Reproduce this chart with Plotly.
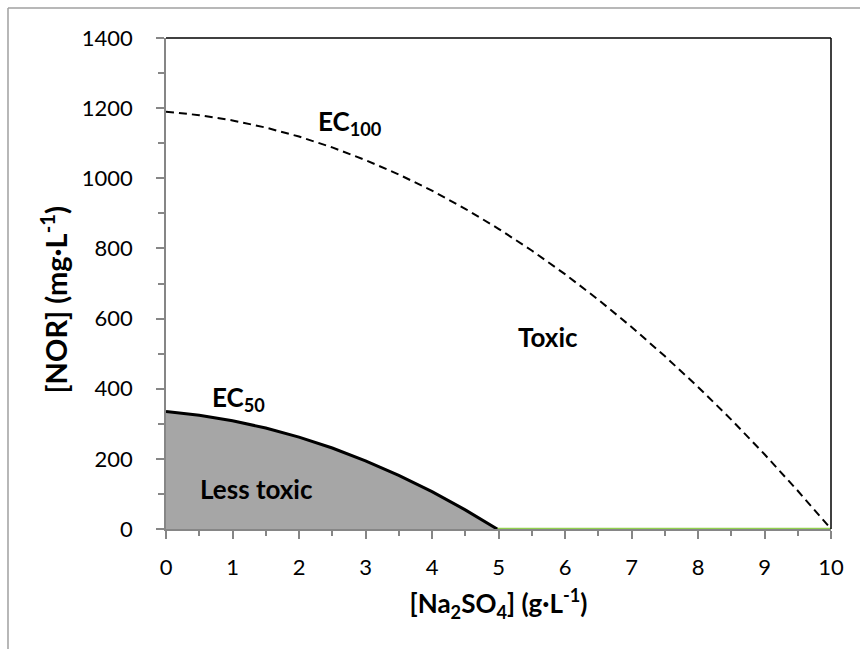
import plotly.graph_objects as go

# Concentration of Na2SO4 (g/L) and NOR toxicity thresholds (mg/L)
ec50_x = [0, 0.5, 1, 1.5, 2, 2.5, 3, 3.5, 4, 4.5, 4.98]
ec50_y = [335, 324.5, 308.8, 288, 262, 230.9, 194.5, 153.1, 106.4, 54.6, 0]

ec100_x = [0, 0.5, 1, 1.5, 2, 2.5, 3, 3.5, 4, 4.5, 5, 5.5, 6, 6.5, 7, 7.5, 8, 8.5, 9, 9.5, 10]
ec100_y = [1190, 1180, 1165, 1144.6, 1119, 1088, 1052, 1011, 964.6, 913, 856, 794,
           726.6, 654, 576, 493, 405, 312, 213, 109, 0]

baseline_x = [0, 10]
baseline_y = [0, 0]

x_ticks = [0, 1, 2, 3, 4, 5, 6, 7, 8, 9, 10]
y_ticks = [0, 200, 400, 600, 800, 1000, 1200, 1400]

FONT = "Lato"

fig = go.Figure()

# zero baseline series
fig.add_trace(go.Scatter(
    x=baseline_x, y=baseline_y, mode="lines",
    line=dict(color="#92D050", width=2.5),
    hoverinfo="skip", showlegend=False, cliponaxis=False))

# shaded "less toxic" region under the EC50 curve
fig.add_trace(go.Scatter(
    x=ec50_x, y=ec50_y, mode="lines", fill="tozeroy",
    fillcolor="#A6A6A6", line=dict(color="black", width=3),
    hoverinfo="skip", showlegend=False))

# EC100 boundary
fig.add_trace(go.Scatter(
    x=ec100_x, y=ec100_y, mode="lines",
    line=dict(color="black", width=2, dash="8px,5px"),
    hoverinfo="skip", showlegend=False))

fig.update_xaxes(
    range=[0, 10], tickvals=x_ticks, ticktext=[str(v) for v in x_ticks],
    showgrid=False, zeroline=False,
    showline=True, linecolor="#868686", linewidth=1.5,
    ticks="outside", ticklen=8, tickwidth=1.5, tickcolor="#868686",
    minor=dict(dtick=0.5, ticks="outside", ticklen=5, tickwidth=1.5, tickcolor="#868686"),
    tickfont=dict(family=FONT, size=22, color="black"),
    ticklabelstandoff=10,
    title=dict(text="<b>[Na<sub>2</sub>SO<sub>4</sub>] (g·L<sup>-1</sup>)</b>",
               font=dict(family=FONT, size=26, color="black"), standoff=16),
)
fig.update_yaxes(
    range=[0, 1400], tickvals=y_ticks, ticktext=[str(v) for v in y_ticks],
    showgrid=False, zeroline=False,
    showline=True, linecolor="#868686", linewidth=1.5,
    ticks="outside", ticklen=8, tickwidth=1.5, tickcolor="#868686",
    minor=dict(dtick=100, ticks="outside", ticklen=6, tickwidth=1.5, tickcolor="#868686"),
    tickfont=dict(family=FONT, size=22, color="black"),
    ticklabelstandoff=19,
)

# vertical axis title, placed as a rotated annotation
fig.add_annotation(
    xref="paper", yref="paper", x=-0.168, y=0.466, xanchor="center", yanchor="middle",
    textangle=-90, showarrow=False,
    text="<b>[NOR] (mg·L<sup>-1</sup>)</b>",
    font=dict(family=FONT, size=29, color="black"))

label_font = dict(family=FONT, size=26, color="black")
annotations = [
    dict(x=2.76, y=1160, text="<b>EC<sub>100</sub></b>"),
    dict(x=5.74, y=547, text="<b>Toxic</b>"),
    dict(x=1.09, y=372, text="<b>EC<sub>50</sub></b>"),
    dict(x=1.36, y=113, text="<b>Less toxic</b>"),
]
for a in annotations:
    fig.add_annotation(xref="x", yref="y", showarrow=False, font=label_font, **a)

# black top/right plot frame and grey outer chart border
fig.add_shape(type="line", xref="paper", yref="paper", x0=0, x1=1, y0=1, y1=1,
              line=dict(color="black", width=1.5))
fig.add_shape(type="line", xref="paper", yref="paper", x0=1, x1=1, y0=0, y1=1,
              line=dict(color="black", width=1.5))
fig.add_shape(type="line", xref="paper", yref="paper", x0=-0.2376, x1=1.06, y0=1.061, y1=1.061,
              line=dict(color="#A0A0A0", width=1.5))
fig.add_shape(type="line", xref="paper", yref="paper", x0=-0.2376, x1=-0.2376, y0=-0.25, y1=1.061,
              line=dict(color="#A0A0A0", width=1.5))

fig.update_layout(
    width=860, height=649,
    margin=dict(l=166, r=29, t=38, b=120),
    plot_bgcolor="white", paper_bgcolor="white",
    font=dict(family=FONT, color="black"),
)

fig.write_html("out.html")
